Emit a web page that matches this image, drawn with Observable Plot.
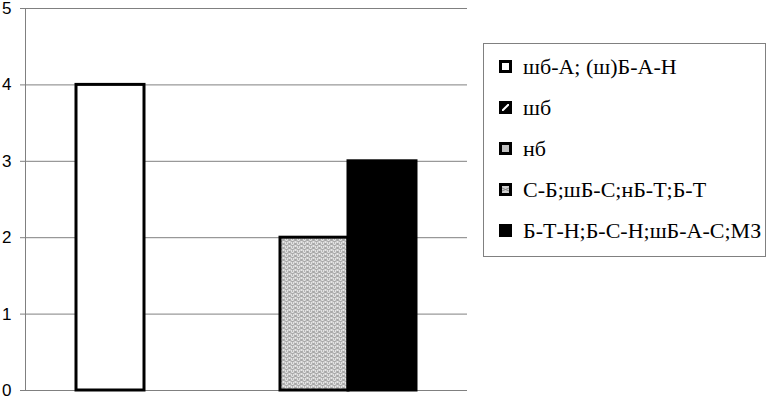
<!DOCTYPE html>
<html>
<head>
<meta charset="utf-8">
<script src="https://cdn.jsdelivr.net/npm/d3@7"></script>
<script src="https://cdn.jsdelivr.net/npm/@observablehq/plot@0.6"></script>
<style>
  body { margin: 0; background: #fff; }
  #wrap { position: relative; width: 767px; height: 398px; overflow: hidden; }
  #legend { position: absolute; left: 483px; top: 43px; width: 283px; height: 214px;
            border: 1px solid #808080; box-sizing: border-box; background: #fff; color: #000; }
  .item { position: absolute; left: 15px; height: 24px; line-height: 24px; white-space: nowrap; }
  .sw { position: absolute; left: 0; top: 5px; width: 13px; height: 13px; box-sizing: border-box; border: 3px solid #000; }
  .sw svg { display: block; }
  .lbl { position: absolute; left: 24px; top: 0; }
</style>
</head>
<body>
<div id="wrap"><div id="chart"></div><div id="legend"></div></div>
<script>
const series = ["шб-А; (ш)Б-А-Н", "шб", "нб", "С-Б;шБ-С;нБ-Т;Б-Т", "Б-Т-Н;Б-С-Н;шБ-А-С;МЗ"];
const values = [4, 0, 0, 2, 3];
const yTicks = [0, 1, 2, 3, 4, 5];

const fills = {
  "шб-А; (ш)Б-А-Н": "#ffffff",
  "шб": "url(#hatch)",
  "нб": "#c0c0c0",
  "С-Б;шБ-С;нБ-Т;Б-Т": "url(#dots)",
  "Б-Т-Н;Б-С-Н;шБ-А-С;МЗ": "#000000"
};

const data = series.map((s, i) => ({series: s, value: values[i]})).filter(d => d.value > 0);

const chart = Plot.plot({
  width: 767,
  height: 398,
  marginLeft: 25,
  marginRight: 300,
  marginTop: 8,
  marginBottom: 8,
  style: {fontFamily: "'Liberation Sans', Arial, sans-serif", fontSize: "17px", color: "#000", background: "#fff"},
  x: {domain: series, paddingInner: 0, paddingOuter: 0.74, axis: null},
  y: {domain: [0, 5], ticks: yTicks},
  marks: [
    Plot.gridY(yTicks, {stroke: "#808080", strokeOpacity: 1, strokeWidth: 1}),
    Plot.axisY(yTicks, {tickSize: 5, tickPadding: 9, stroke: "#808080", strokeOpacity: 1, fill: "#000", fontSize: 17, label: null, tickFormat: d => String(d)}),
    Plot.frame({anchor: "left", stroke: "#808080", strokeOpacity: 1}),
    Plot.barY(data, {x: "series", y: "value", fill: d => fills[d.series], stroke: "#000", strokeWidth: 3})
  ]
});

const svg = d3.select(chart);
const defs = svg.insert("defs", ":first-child");
const hp = defs.append("pattern").attr("id", "hatch").attr("patternUnits", "userSpaceOnUse").attr("width", 6).attr("height", 6);
hp.append("rect").attr("width", 6).attr("height", 6).attr("fill", "#000");
hp.append("path").attr("d", "M0,6 L6,0").attr("stroke", "#fff").attr("stroke-width", 1.5);
const dp = defs.append("pattern").attr("id", "dots").attr("patternUnits", "userSpaceOnUse").attr("width", 6).attr("height", 4);
dp.append("rect").attr("width", 6).attr("height", 4).attr("fill", "#e6e6e6");
dp.append("path").attr("d", "M0,1 Q1.5,0 3,1 T6,1 M0,3 Q1.5,4 3,3").attr("stroke", "#8a8a8a").attr("stroke-width", 0.9).attr("fill", "none");
dp.append("circle").attr("cx", 4.5).attr("cy", 3).attr("r", 0.7).attr("fill", "#999");

document.getElementById("chart").appendChild(chart);

// Legend
const legend = document.getElementById("legend");
const swatchSvg = {
  "шб-А; (ш)Б-А-Н": '<svg width="7" height="7"><rect width="7" height="7" fill="#fff"/></svg>',
  "шб": '<svg width="7" height="7"><rect width="7" height="7" fill="#000"/><path d="M0,7 L7,0" stroke="#fff" stroke-width="2"/></svg>',
  "нб": '<svg width="7" height="7"><rect width="7" height="7" fill="#c0c0c0"/></svg>',
  "С-Б;шБ-С;нБ-Т;Б-Т": '<svg width="7" height="7"><rect width="7" height="7" fill="#d0d0d0"/><path d="M0,2 L7,5 M0,5 L7,2" stroke="#888" stroke-width="1"/></svg>',
  "Б-Т-Н;Б-С-Н;шБ-А-С;МЗ": '<svg width="7" height="7"><rect width="7" height="7" fill="#000"/></svg>'
};
series.forEach((s, i) => {
  const it = document.createElement("div");
  it.className = "item";
  it.style.top = (11 + i * 41) + "px";
  it.innerHTML = '<div class="sw">' + swatchSvg[s] + '</div>';
  const lbl = document.createElement("div");
  lbl.className = "lbl";
  lbl.style.fontFamily = "'Liberation Serif', serif";
  lbl.style.fontSize = "22px";
  lbl.textContent = s;
  it.appendChild(lbl);
  legend.appendChild(it);
});
</script>
</body>
</html>
